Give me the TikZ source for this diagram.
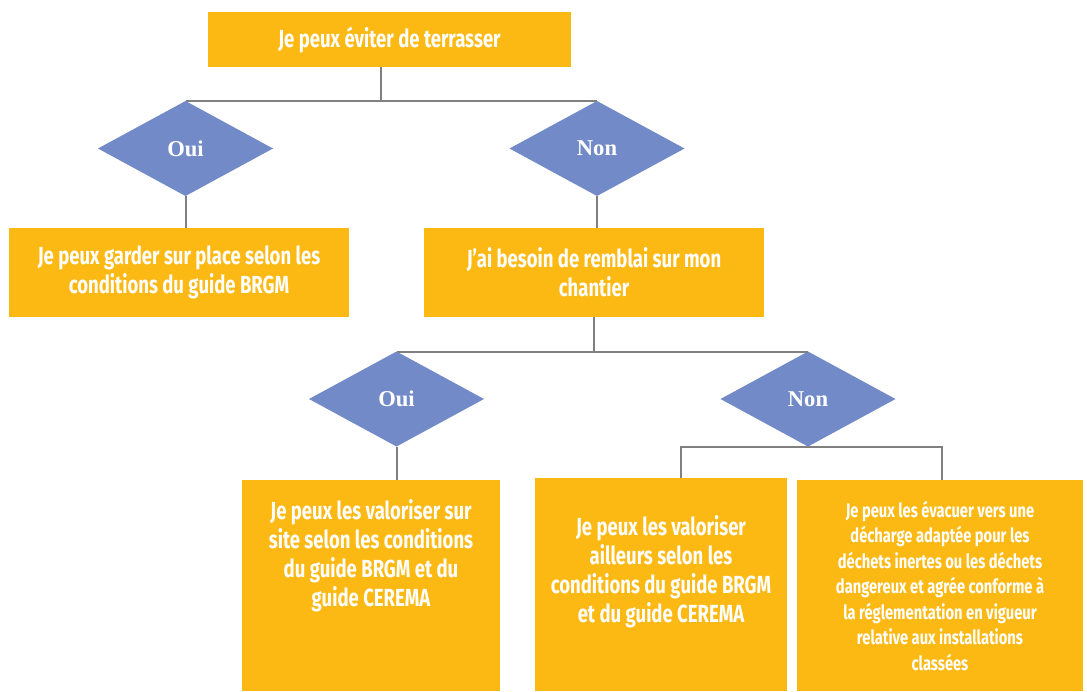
\documentclass[tikz,border=0pt]{standalone}
\usepackage{fontspec}
\newfontfamily\agency{Fira Sans}[FakeStretch=0.75]
\newfontfamily\timesb{Liberation Serif}
\usetikzlibrary{shapes.geometric,positioning}

\definecolor{boxorange}{RGB}{253,185,19}
\definecolor{choiceblue}{RGB}{114,139,200}
\definecolor{linkgray}{RGB}{128,128,128}

\tikzset{
  box/.style={fill=boxorange, text=white, align=center, inner sep=0pt, outer sep=0pt,
    font=\agency\bfseries\fontsize{24.7}{29}\selectfont},
  boxtext/.style={text=white, align=center, inner sep=0pt,
    font=\agency\bfseries\fontsize{24.7}{29}\selectfont},
  smallbox/.style={box, font=\agency\bfseries\fontsize{19.6}{25.5}\selectfont},
  choice/.style={diamond, fill=choiceblue, text=white, minimum width=175pt, minimum height=95pt,
    inner sep=0pt, outer sep=0pt, font=\timesb\bfseries\fontsize{22.6}{26}\selectfont},
  link/.style={draw=linkgray, line width=2pt},
}

\begin{document}
\begin{tikzpicture}[x=1pt,y=-1pt]
    \useasboundingbox (0,0) rectangle (1087,691);

    % premier choix
    \node[box, minimum width=363pt, minimum height=55pt] (terr) at (389.5,39.5) {Je peux éviter de terrasser};
    \node[choice] (oui1) at (185.5,148.5) {Oui};
    \node[choice] (non1) at (597,148.5)   {Non};
    \node[box, minimum width=340pt, minimum height=89pt] (garder)  at (179,272.5) {Je peux garder sur place selon les\\conditions du guide BRGM};
    \node[box, minimum width=340pt, minimum height=89pt] (remblai) at (594,272.5) {J’ai besoin de remblai sur mon\\chantier};

    % second choix
    \node[choice] (oui2) at (396.5,399) {Oui};
    \node[choice] (non2) at (808,399)   {Non};
    \node[box, minimum width=258pt, minimum height=211pt] (site)     at (371,585.5) {};
    \node[box, minimum width=252pt, minimum height=213pt] (ailleurs) at (661,584.5) {};
    \node[smallbox, minimum width=286pt, minimum height=211pt] (evacuer) at (940,585.5)
        {Je peux les évacuer vers une\\décharge adaptée pour les\\déchets inertes ou les déchets\\dangereux et agrée conforme à\\la réglementation en vigueur\\relative aux installations\\classées};
    \node[boxtext] (sitetxt)     [below=19pt of site.north]     {Je peux les valoriser sur\\site selon les conditions\\du guide BRGM et du\\guide CEREMA};
    \node[boxtext] (ailleurstxt) [below=37pt of ailleurs.north] {Je peux les valoriser\\ailleurs selon les\\conditions du guide BRGM\\et du guide CEREMA};

    \coordinate (split) at ([xshift=-9pt]terr.south);
    \coordinate (dropL) at (681,478);
    \coordinate (dropR) at (942,480);

    \draw[link] (split) |- (oui1.north);
    \draw[link] (split) |- (non1.north);
    \draw[link] (oui1.south) -- (oui1.south |- garder.north);
    \draw[link] (non1.south) -- (non1.south |- remblai.north);
    \draw[link] (remblai.south) |- (oui2.north);
    \draw[link] (remblai.south) |- (non2.north);
    \draw[link] (oui2.south) -- (oui2.south |- site.north);
    \draw[link] (dropL) |- (non2.south) -| (dropR);
\end{tikzpicture}
\end{document}
